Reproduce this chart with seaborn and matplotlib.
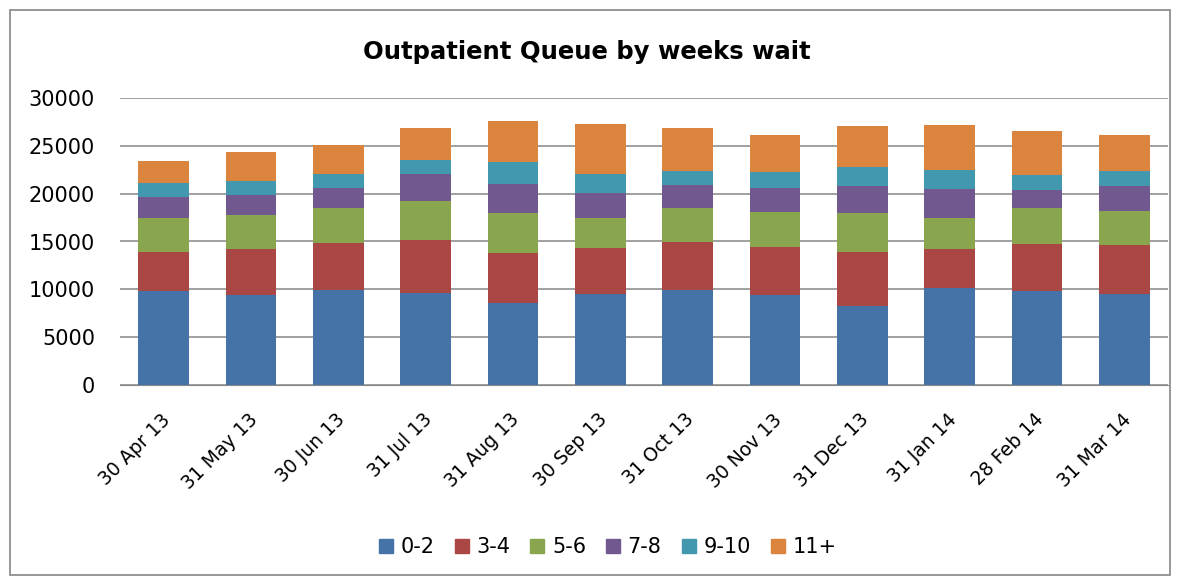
import seaborn as sns
import pandas as pd
import numpy as np
import matplotlib.pyplot as plt
import matplotlib.transforms as mtransforms
from matplotlib.patches import Rectangle
from matplotlib.lines import Line2D

# Data
months = ['30 Apr 13', '31 May 13', '30 Jun 13', '31 Jul 13', '31 Aug 13', '30 Sep 13',
          '31 Oct 13', '30 Nov 13', '31 Dec 13', '31 Jan 14', '28 Feb 14', '31 Mar 14']
wk_0_2 = [9840, 9420, 9940, 9630, 8580, 9520, 9940, 9420, 8270, 10150, 9840, 9520]
wk_3_4 = [4080, 4810, 4920, 5540, 5230, 4820, 5020, 5020, 5650, 4080, 4910, 5130]
wk_5_6 = [3550, 3560, 3660, 4080, 4190, 3130, 3560, 3660, 4080, 3240, 3770, 3560]
wk_7_8 = [2200, 2090, 2090, 2830, 3030, 2620, 2410, 2510, 2820, 3040, 1880, 2610]
wk_9_10 = [1470, 1470, 1470, 1460, 2300, 1990, 1460, 1680, 1990, 1990, 1570, 1570]
wk_11p = [2300, 3030, 3030, 3350, 4290, 5230, 4500, 3870, 4290, 4710, 4610, 3770]

groups = ['0-2', '3-4', '5-6', '7-8', '9-10', '11+']
colors = ['#4572A7', '#AA4643', '#89A54E', '#71588F', '#4198AF', '#DB843D']

df = pd.DataFrame({'month': months, '0-2': wk_0_2, '3-4': wk_3_4, '5-6': wk_5_6,
                   '7-8': wk_7_8, '9-10': wk_9_10, '11+': wk_11p})
cum = df[groups].cumsum(axis=1)
cum['month'] = df['month']

sns.set_style('white')
plt.rcParams['font.family'] = ['DejaVu Sans']
plt.rcParams.update({'text.color': 'black', 'xtick.color': 'black', 'ytick.color': 'black'})

fig = plt.figure(figsize=(11.81, 5.80), dpi=100)
ax = fig.add_axes([120 / 1181, 1 - 385 / 580, 1048 / 1181, 287 / 580])

# stacked bars: draw cumulative totals from the top group down
for g, c in reversed(list(zip(groups, colors))):
    sns.barplot(data=cum, x='month', y=g, color=c, width=0.58, ax=ax,
                saturation=1, edgecolor='none', zorder=3)

ax.set_ylim(0, 30000)
ax.set_yticks(range(0, 30001, 5000))
ax.set_xlim(-0.5, len(months) - 0.5)
ax.grid(axis='y', color='#868686', linewidth=1.1, zorder=0)
for s in ['left', 'right', 'top']:
    ax.spines[s].set_visible(False)
ax.spines['bottom'].set_color('#868686')
ax.spines['bottom'].set_zorder(4)
ax.set_xlabel('')
ax.set_ylabel('')
ax.tick_params(axis='y', labelsize=15, pad=18, length=0)
ax.tick_params(axis='x', labelsize=13.5, pad=18, length=0)
shift = mtransforms.ScaledTranslation(-3 / 100, 0, fig.dpi_scale_trans)
for lbl in ax.get_xticklabels():
    lbl.set_rotation(45)
    lbl.set_ha('right')
    lbl.set_rotation_mode('anchor')
    lbl.set_transform(lbl.get_transform() + shift)

fig.text(0.497, 1 - 52 / 580, 'Outpatient Queue by weeks wait', ha='center', va='center',
         fontsize=17.5, fontweight='bold')

handles = [Line2D([0], [0], marker='s', linestyle='none', markersize=10.5,
                  markerfacecolor=c, markeredgecolor=c) for c in colors]
fig.legend(handles, groups, loc='center', bbox_to_anchor=(607 / 1181, 1 - 547 / 580), ncol=6,
           frameon=False, fontsize=15, handlelength=0.8, handletextpad=0.3,
           columnspacing=0.9)

fig.patches.append(Rectangle((10 / 1181, 1 - 575 / 580), 1160 / 1181, 565 / 580,
                             transform=fig.transFigure, fill=False,
                             edgecolor='#868686', linewidth=1.2))

fig.savefig('out.png', dpi=100)
